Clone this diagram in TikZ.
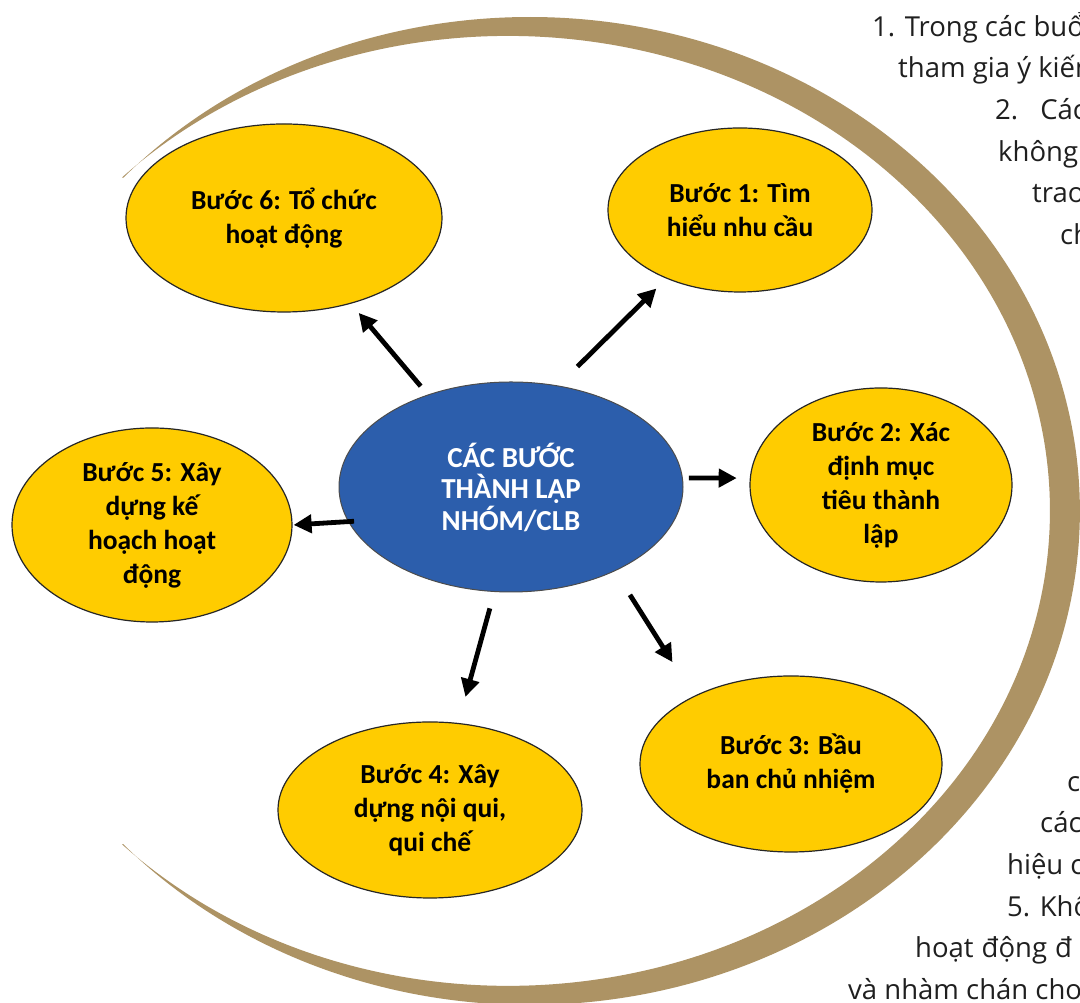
\documentclass[tikz,border=0pt]{standalone}
\usepackage{fontspec}
\setmainfont{Open Sans}
\newfontfamily\nodefont{Carlito}
\usetikzlibrary{shapes.geometric,arrows.meta}
\definecolor{band}{RGB}{173,147,100}
\definecolor{stepyellow}{RGB}{255,204,0}
\definecolor{hubblue}{RGB}{44,94,172}
\begin{document}
\begin{tikzpicture}[x=1pt,y=1pt,
  stepnode/.style={ellipse, draw=black!85, line width=1.2pt, fill=stepyellow, inner sep=0pt,
    align=center, text=black, font=\nodefont\bfseries\fontsize{27.5}{34}\selectfont},
  hubnode/.style={ellipse, draw=black!70, line width=1pt, fill=hubblue, inner sep=0pt,
    align=center, text=white, font=\nodefont\bfseries\fontsize{29}{31.5}\selectfont},
  arrowline/.style={line width=4.8pt, black, -{Triangle[length=18pt,width=18pt]}},
  bodytext/.style={inner sep=0pt, anchor=base west, text=black!88,
    font=\fontsize{27.5}{30}\selectfont}]
\useasboundingbox (0,0) rectangle (1080,1003);
\clip (0,0) rectangle (1080,1003);
\fill[white] (0,0) rectangle (1080,1003);
% crescent
\fill[band] (123.1,825.1) arc[start angle=137.6, end angle=-137.6, x radius=550.4pt, y radius=494pt]
  -- (122.1,158.6) arc[start angle=-135.4, end angle=135.4, x radius=542pt, y radius=475pt] -- cycle;
% nodes
\node[hubnode, minimum width=344pt, minimum height=210pt] (c) at (511,516) {CÁC BƯỚC\\THÀNH LẬP\\NHÓM/CLB};
\node[stepnode, minimum width=264pt, minimum height=164pt] (b1) at (740,793) {Bước 1: Tìm\\hiểu nhu cầu};
\node[stepnode, minimum width=262pt, minimum height=194pt] (b2) at (881,518) {Bước 2: Xác\\định mục\\tiêu thành\\lập};
\node[stepnode, minimum width=302pt, minimum height=176pt] (b3) at (791,239) {Bước 3: Bầu\\ban chủ nhiệm};
\node[stepnode, minimum width=304pt, minimum height=176pt] (b4) at (430,193) {Bước 4: Xây\\dựng nội qui,\\qui chế};
\node[stepnode, minimum width=280pt, minimum height=194pt] (b5) at (152,478) {Bước 5: Xây\\dựng kế\\hoạch hoạt\\động};
\node[stepnode, minimum width=316pt, minimum height=188pt] (b6) at (284,785) {Bước 6: Tổ chức\\hoạt động};
% arrows
\draw[arrowline, shorten <=27pt, shorten >=14pt] (c.65.1) -- (b1.223);
\draw[arrowline, shorten <=6pt, shorten >=13pt] (c.3) -- (b2.177);
\draw[arrowline, shorten <=28pt, shorten >=40pt] (c.-39.6) -- (b3.145.8);
\draw[arrowline, shorten <=17pt, shorten >=27pt] (c.261.7) -- (b4.72.5);
\draw[arrowline, shorten <=-6pt, shorten >=1pt] (c.192.9) -- (b5.0);
\draw[arrowline, shorten <=11pt, shorten >=12pt] (c.132.5) -- (b6.-52.3);
% side text
\node[bodytext] (t1) at (872,966) {1. Trong các buổi};
\node[bodytext] (t2) at (898,925) {tham gia ý kiến};
\node[bodytext] (t3) at (995,883) {2.\hspace{22pt}Các};
\node[bodytext] (t4) at (998,841) {không};
\node[bodytext] (t5) at (1032,800) {trao};
\node[bodytext] (t6) at (1060,758) {ch};
\node[bodytext] (u1) at (1067,211) {c};
\node[bodytext] (u2) at (1040,170) {các};
\node[bodytext] (u3) at (1007,128) {hiệu c};
\node[bodytext] (u4) at (1007,86) {5. Khô};
\node[bodytext] (u5) at (915,45) {hoạt\hspace{8pt}động\hspace{8pt}đ};
\node[bodytext] (u6) at (848,3) {và nhàm chán cho};
\end{tikzpicture}
\end{document}
